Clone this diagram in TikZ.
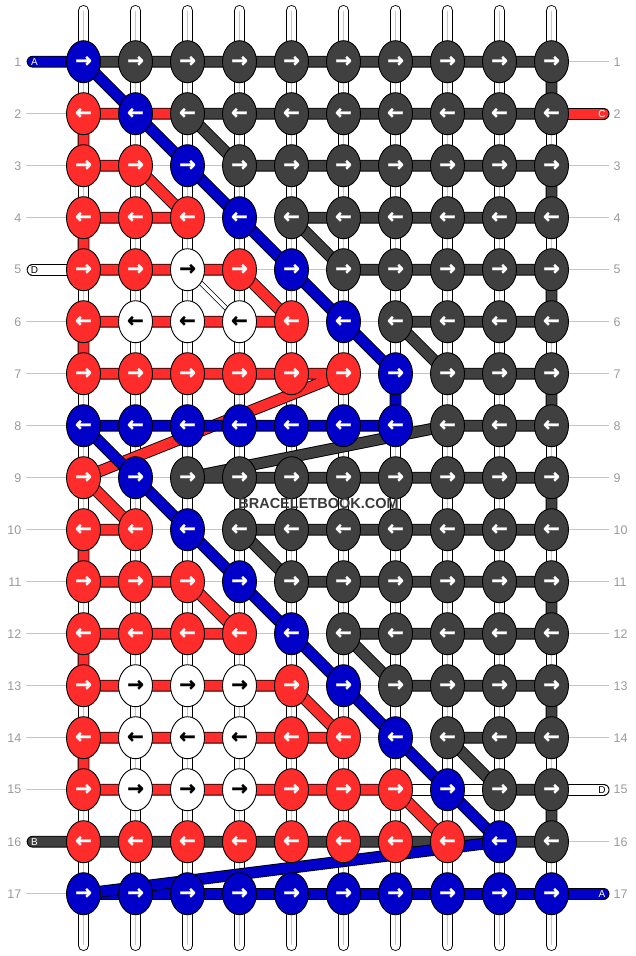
\documentclass[tikz,border=0pt]{standalone}
\usepackage{fontspec}
\setmainfont{Liberation Sans}
\newfontfamily\arrowfont{DejaVu Sans}[FakeBold=1.5]
\usetikzlibrary{shapes.geometric}

\definecolor{kB}{HTML}{0000C8}
\definecolor{kR}{HTML}{FF2C2C}
\definecolor{kK}{HTML}{404040}
\definecolor{kW}{HTML}{FFFFFF}
\colorlet{aB}{white}
\colorlet{aR}{white}
\colorlet{aK}{white}
\colorlet{aW}{black}
\definecolor{rowgray}{HTML}{C4C4C4}
\definecolor{numgray}{HTML}{9A9A9A}
\definecolor{wmgray}{HTML}{3A3A3A}

\pgfdeclarelayer{bg}
\pgfdeclarelayer{segs}
\pgfsetlayers{bg,segs,main}

\tikzset{
  knot/.style={draw, ellipse, line width=0.9, minimum width=34, minimum height=42, inner sep=0,
    fill=k#1, text=a#1, font=\arrowfont\bfseries\fontsize{20}{20}\selectfont},
  strand/.style={draw=black, line width=0.9, double=#1, double distance=10, line join=round, line cap=round},
  thinstrand/.style={draw=black, line width=0.7, double=#1, double distance=3.6},
  vstr/.style={draw=black, line width=0.9, double=white, double distance=9.4, line cap=round},
  vmid/.style={draw=black!22, line width=1.3},
  rowline/.style={draw=rowgray, line width=1.2},
  rownum/.style={text=numgray, font=\fontsize{12.5}{12.5}\selectfont, inner xsep=4.5, inner ysep=0},
  tabtxt/.style={font=\fontsize{10}{10}\selectfont, inner sep=0},
  wm/.style={font=\bfseries\fontsize{14.5}{14.5}\selectfont, inner sep=0}
}

\begin{document}
\begin{tikzpicture}[x=1pt,y=-1pt]
  \useasboundingbox (0,0) rectangle (636,956);

  \foreach \rw/\cols in {1/{B,K,K,K,K,K,K,K,K,K},2/{R,B,K,K,K,K,K,K,K,K},3/{R,R,B,K,K,K,K,K,K,K},
      4/{R,R,R,B,K,K,K,K,K,K},5/{R,R,W,R,B,K,K,K,K,K},6/{R,W,W,W,R,B,K,K,K,K},
      7/{R,R,R,R,R,R,B,K,K,K},8/{B,B,B,B,B,B,B,K,K,K},9/{R,B,K,K,K,K,K,K,K,K},
      10/{R,R,B,K,K,K,K,K,K,K},11/{R,R,R,B,K,K,K,K,K,K},12/{R,R,R,R,B,K,K,K,K,K},
      13/{R,W,W,W,R,B,K,K,K,K},14/{R,W,W,W,R,R,B,K,K,K},15/{R,W,W,W,R,R,R,B,K,K},
      16/{R,R,R,R,R,R,R,R,B,K},17/{B,B,B,B,B,B,B,B,B,B}}{
    \foreach \k [count=\cl] in \cols
      \draw (83.5+52*\cl-52, 61.7+52*\rw-52) node[knot=\k] (k\rw-\cl) {\ifodd\rw →\else ←\fi};
    \draw (26, 61.7+52*\rw-52) node[rownum,anchor=east] (nl\rw) {\rw}
          (609, 61.7+52*\rw-52) node[rownum,anchor=west] (nr\rw) {\rw};
  }

  \coordinate (tAl) at (32.6,61.7);
  \coordinate (tC) at (603.6,113.7);
  \coordinate (tDl) at (32.6,269.7);
  \coordinate (tDr) at (603.6,789.7);
  \coordinate (tB) at (32.6,841.7);
  \coordinate (tAr) at (603.6,893.7);

  \begin{pgfonlayer}{bg}
    \foreach \cl in {1,...,10}{
      \coordinate (st\cl) at (31.5+52*\cl, 10.6);
      \coordinate (sb\cl) at (31.5+52*\cl, 945.4);
      \draw[vstr] (st\cl) -- (sb\cl);
      \draw[vmid] (st\cl) -- (sb\cl);
    }
    \foreach \rw in {1,...,17}
      \draw[rowline] (nl\rw) -- (nr\rw);
  \end{pgfonlayer}

  \begin{pgfonlayer}{segs}
    \draw[strand=kR] (k2-3.center) -- (k2-1.center) -- (k3-1.center) -- (k3-2.center) -- (k4-3.center)
      -- (k4-1.center) -- (k5-1.center) -- (k5-4.center) -- (k6-5.center) -- (k6-1.center)
      -- (k7-1.center) -- (k7-6.center) -- (k9-1.center) -- (k10-2.center) -- (k10-1.center)
      -- (k11-1.center) -- (k11-3.center) -- (k12-4.center) -- (k12-1.center) -- (k13-1.center)
      -- (k13-5.center) -- (k14-6.center) -- (k14-1.center) -- (k15-1.center) -- (k15-7.center)
      -- (k16-8.center);
    \draw[strand=kR] (k2-10.center) -- (tC);

    \draw[strand=kK] (k1-1.center) -- (k1-10.center) -- (k2-10.center) -- (k2-3.center) -- (k3-4.center)
      -- (k3-10.center) -- (k4-10.center) -- (k4-5.center) -- (k5-6.center) -- (k5-10.center)
      -- (k6-10.center) -- (k6-7.center) -- (k7-8.center) -- (k7-10.center) -- (k8-10.center)
      -- (k8-8.center) -- (k9-3.center) -- (k9-10.center) -- (k10-10.center) -- (k10-4.center)
      -- (k11-5.center) -- (k11-10.center) -- (k12-10.center) -- (k12-6.center) -- (k13-7.center)
      -- (k13-10.center) -- (k14-10.center) -- (k14-8.center) -- (k15-9.center) -- (k15-10.center)
      -- (k16-10.center) -- (k16-1.center) -- (tB);

    \draw[strand=kW] (tDl) -- (k5-1.center);
    \draw[thinstrand=kW] (k5-3.center) -- (k6-4.center);
    \draw[strand=kW] (k15-7.center) -- (k15-9.center);
    \draw[strand=kW] (k15-10.center) -- (tDr);

    \draw[strand=kB] (k17-1.center) -- (k17-10.center) -- (tAr);
    \draw[strand=kB] (tAl) -- (k1-1.center) -- (k2-2.center) -- (k3-3.center) -- (k4-4.center)
      -- (k5-5.center) -- (k6-6.center) -- (k7-7.center) -- (k8-7.center) -- (k8-1.center)
      -- (k9-2.center) -- (k10-3.center) -- (k11-4.center) -- (k12-5.center) -- (k13-6.center)
      -- (k14-7.center) -- (k15-8.center) -- (k16-9.center) -- (k17-1.center);
  \end{pgfonlayer}

  \node[tabtxt,text=white] (lA1) at (34.5,61.7) {A};
  \node[tabtxt,text=white] (lC) at (602,113.7) {C};
  \node[tabtxt,text=black] (lD1) at (34.5,269.7) {D};
  \node[tabtxt,text=black] (lD2) at (602,789.7) {D};
  \node[tabtxt,text=white] (lB) at (34.5,841.7) {B};
  \node[tabtxt,text=white] (lA2) at (602,893.7) {A};

  \node[wm,text=wmgray] (wm) at (318.5,503.5) {BRACELETBOOK.COM};

\end{tikzpicture}
\end{document}
